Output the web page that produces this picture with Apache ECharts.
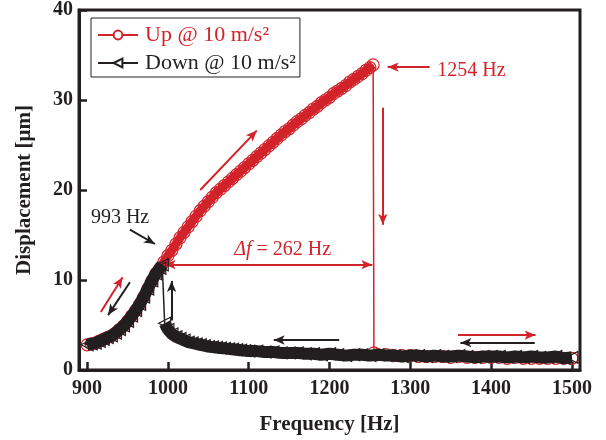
<!DOCTYPE html>
<html>
<head>
<meta charset="utf-8">
<script src="https://cdn.jsdelivr.net/npm/echarts@6/dist/echarts.min.js"></script>
<style>
  html, body { margin: 0; padding: 0; background: #fff; }
  #chart { width: 606px; height: 440px; }
</style>
</head>
<body>
<div id="chart"></div>
<script>
// Frequency sweep up: rising branch up to the jump-down frequency
const upRiseFreq = [900,905,910,915,920,925,930,935,940,945,950,955,960,965,970,975,980,985,990,995,
  1000,1005,1010,1015,1020,1025,1030,1035,1040,1045,1050,1055,1060,1065,1070,1075,1080,1085,1090,1095,
  1100,1105,1110,1115,1120,1125,1130,1135,1140,1145,1150,1155,1160,1165,1170,1175,1180,1185,1190,1195,
  1200,1205,1210,1215,1220,1225,1230,1235,1240,1245,1250,1254];
const upRiseDisp = [2.8,2.9,3.0,3.2,3.4,3.6,3.8,4.1,4.5,4.9,5.4,6.0,6.6,7.3,8.1,9.0,9.9,10.7,11.3,12.0,
  12.7,13.3,14.0,14.7,15.3,15.9,16.5,17.1,17.7,18.2,18.7,19.2,19.7,20.1,20.5,20.9,21.3,21.7,22.1,22.5,
  22.9,23.3,23.7,24.1,24.5,24.9,25.3,25.7,26.1,26.5,26.8,27.2,27.6,27.9,28.3,28.6,29.0,29.3,29.7,30.0,
  30.3,30.7,31.0,31.3,31.6,32.0,32.3,32.6,32.9,33.3,33.6,33.9];
// Sweep up: low branch after the jump
const upLowFreq = [1255,1260,1270,1280,1290,1300,1310,1320,1330,1340,1350,1360,1370,1380,1390,1400,
  1410,1420,1430,1440,1450,1460,1470,1480,1490,1500];
const upLowDisp = [1.9,1.7,1.7,1.6,1.6,1.6,1.5,1.5,1.5,1.5,1.4,1.5,1.4,1.4,1.4,1.4,
  1.4,1.3,1.4,1.3,1.3,1.3,1.3,1.3,1.3,1.3];

// Frequency sweep down: low branch down to the jump-up frequency
const downLowFreq = [1500,1490,1480,1470,1460,1450,1440,1430,1420,1410,1400,1390,1380,1370,1360,1350,
  1340,1330,1320,1310,1300,1290,1280,1270,1260,1250,1240,1230,1220,1210,1200,1190,1180,1170,1160,1150,
  1140,1130,1120,1110,1100,1095,1090,1085,1080,1075,1070,1065,1060,1055,1050,1045,1040,1035,1030,1025,
  1020,1015,1010,1005,1000,996];
const downLowDisp = [1.4,1.3,1.5,1.4,1.4,1.5,1.4,1.5,1.4,1.5,1.5,1.5,1.4,1.5,1.6,1.5,
  1.5,1.6,1.5,1.6,1.6,1.5,1.6,1.6,1.7,1.6,1.7,1.7,1.6,1.7,1.8,1.7,1.8,1.8,1.9,1.9,
  1.9,2.0,2.0,2.1,2.1,2.15,2.2,2.25,2.3,2.35,2.4,2.45,2.5,2.55,2.6,2.7,2.8,2.9,3.0,3.1,
  3.3,3.5,3.7,4.0,4.5,5.2];
// Sweep down: resonant branch after the jump
const downRiseFreq = [993,990,985,980,975,970,965,960,955,950,945,940,935,930,925,920,915,910,905,900];
const downRiseDisp = [11.7,11.3,10.7,9.9,9.0,8.1,7.3,6.6,6.0,5.4,4.9,4.5,4.1,3.8,3.6,3.4,3.2,3.0,2.9,2.8];

const xTickValues = [900,1000,1100,1200,1300,1400,1500];
const yTickValues = [0,10,20,30,40];
const seriesNames = ['Up @ 10 m/s\u00B2', 'Down @ 10 m/s\u00B2'];

const RED = '#d2232a';
const BLACK = '#231f20';
const FONT = '"Liberation Serif", "Times New Roman", serif';

// Direction arrows and labels, in data coordinates
const arrows = [
  { from: [1040, 20.0], to: [1110, 26.6], color: RED },
  { from: [917, 6.45], to: [944, 10.3], color: RED },
  { from: [953, 9.75], to: [926, 6.1], color: BLACK },
  { from: [953, 15.6], to: [984, 14.0], color: BLACK },
  { from: [996, 11.7], to: [1253, 11.7], color: RED, both: true },
  { from: [1266, 29.15], to: [1266, 16.15], color: RED },
  { from: [1324, 33.66], to: [1272, 33.66], color: RED },
  { from: [1004.6, 5.5], to: [1004.6, 9.9], color: BLACK },
  { from: [1212, 3.33], to: [1131, 3.33], color: BLACK },
  { from: [1359, 3.88], to: [1455, 3.88], color: RED },
  { from: [1454, 3.04], to: [1362, 3.04], color: BLACK }
];
const notes = [
  { text: '993 Hz', at: [940.8, 16.9], color: BLACK },
  { text: '{i|\u0394f} = 262 Hz', at: [1142, 13.4], color: RED },
  { text: '1254 Hz', at: [1375.6, 33.3], color: RED }
];

function pairs(fs, vs) { return fs.map((f, i) => [f, vs[i]]); }

const upPts = pairs(upRiseFreq, upRiseDisp).concat(pairs(upLowFreq, upLowDisp));
const downPts = pairs(downLowFreq, downLowDisp).concat(pairs(downRiseFreq, downRiseDisp));
// thick core of each band, broken at the jump
const upBand = pairs(upRiseFreq, upRiseDisp).concat([[null, null]], pairs(upLowFreq, upLowDisp));
const downBand = pairs(downLowFreq, downLowDisp).concat([[null, null]], pairs(downRiseFreq, downRiseDisp));

const chart = echarts.init(document.getElementById('chart'), null, { renderer: 'canvas' });

const axisFont = { fontFamily: FONT, fontWeight: 'bold', fontSize: 20, color: BLACK };

chart.setOption({
  animation: false,
  backgroundColor: '#fff',
  grid: {
    left: 79, right: 26, top: 8, bottom: 68,
    show: true, borderColor: BLACK, borderWidth: 3, backgroundColor: 'transparent'
  },
  legend: {
    left: 91, top: 18, orient: 'vertical',
    padding: [6, 4, 3, 6],
    itemGap: 6,
    itemWidth: 40, itemHeight: 11,
    borderColor: BLACK, borderWidth: 1, borderRadius: 0,
    backgroundColor: '#fff',
    textStyle: { fontFamily: FONT, fontSize: 22, padding: [0, 0, 0, 2] },
    data: [
      { name: seriesNames[0], textStyle: { color: RED }, itemStyle: { color: '#fff' } },
      { name: seriesNames[1], textStyle: { color: BLACK }, itemStyle: { color: '#fff' } }
    ]
  },
  xAxis: {
    type: 'value', min: 890, max: 1510,
    name: 'Frequency [Hz]', nameLocation: 'middle', nameGap: 44,
    nameTextStyle: { fontFamily: FONT, fontWeight: 'bold', fontSize: 21, color: BLACK },
    axisLine: { show: true, onZero: false, lineStyle: { color: BLACK, width: 3 } },
    axisTick: { show: true, inside: true, length: 8, customValues: xTickValues, lineStyle: { color: BLACK, width: 2.5 } },
    axisLabel: Object.assign({ margin: 9, customValues: xTickValues, formatter: v => String(v) }, axisFont),
    splitLine: { show: false }
  },
  yAxis: {
    type: 'value', min: 0, max: 40, interval: 10,
    name: 'Displacement [\u03BCm]', nameLocation: 'middle', nameGap: 44, nameRotate: 90,
    nameTextStyle: { fontFamily: FONT, fontWeight: 'bold', fontSize: 21, color: BLACK },
    axisLine: { show: true, onZero: false, lineStyle: { color: BLACK, width: 3 } },
    axisTick: { show: true, inside: true, length: 8, lineStyle: { color: BLACK, width: 2.5 } },
    axisLabel: Object.assign({ margin: 6, customValues: yTickValues, formatter: v => String(v) }, axisFont),
    splitLine: { show: false }
  },
  series: [
    {
      name: 'upBand', type: 'line', data: upBand, showSymbol: false, silent: true,
      connectNulls: false, lineStyle: { color: RED, width: 9 }, z: 2
    },
    {
      name: seriesNames[0], type: 'line', data: upPts,
      symbol: 'circle', symbolSize: 12,
      itemStyle: { color: 'rgba(255,255,255,0)', borderColor: RED, borderWidth: 1.2 },
      lineStyle: { color: RED, width: 1.5 }, z: 3
    },
    {
      name: 'downBand', type: 'line', data: downBand, showSymbol: false, silent: true,
      connectNulls: false, lineStyle: { color: BLACK, width: 12 }, z: 4
    },
    {
      name: seriesNames[1], type: 'line', data: downPts,
      symbol: 'triangle', symbolSize: 12, symbolRotate: 90,
      itemStyle: { color: 'rgba(255,255,255,0)', borderColor: BLACK, borderWidth: 1.2 },
      lineStyle: { color: BLACK, width: 1.5 }, z: 5
    },
    {
      name: 'notes', type: 'line', data: [], z: 6,
      markLine: {
        silent: true, animation: false,
        label: { show: false },
        data: arrows.map(a => [
          { coord: a.from, symbol: a.both ? 'arrow' : 'none', symbolSize: [7, 11],
            lineStyle: { color: a.color, width: 2, type: 'solid' } },
          { coord: a.to, symbol: 'arrow', symbolSize: [7, 11] }
        ])
      }
    }
  ]
});

// Text annotations placed at data coordinates
chart.setOption({
  graphic: notes.map(n => {
    const p = chart.convertToPixel({ gridIndex: 0 }, n.at);
    return {
      type: 'text', x: p[0], y: p[1], z: 100, silent: true,
      style: {
        text: n.text, fill: n.color, align: 'center', verticalAlign: 'middle',
        font: '20px ' + FONT,
        rich: { i: { fontStyle: 'italic', fontSize: 20, fontFamily: FONT, fill: n.color } }
      }
    };
  })
});
</script>
</body>
</html>
